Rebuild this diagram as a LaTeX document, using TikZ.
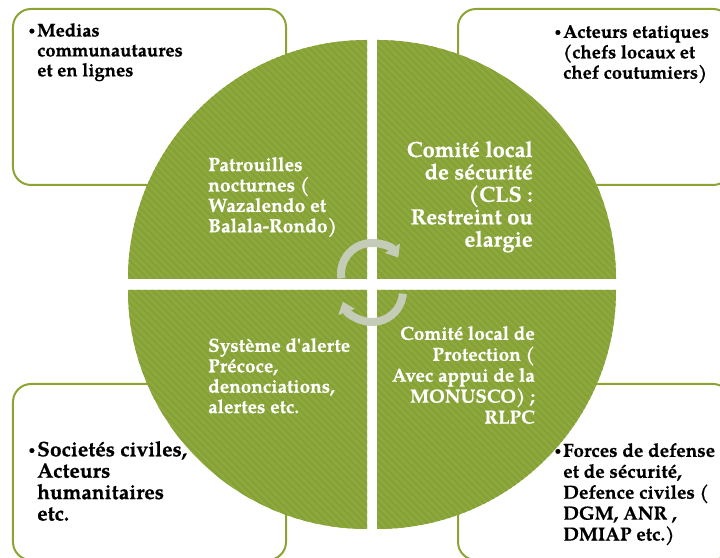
\documentclass[tikz,border=0pt]{standalone}
\usepackage{fontspec}
\setmainfont{texgyrepagella}[Extension=.otf, UprightFont=*-regular, BoldFont=*-bold,
  BoldFeatures={FakeBold=0.6}]
\usetikzlibrary{arrows.meta}

\definecolor{leafgreen}{RGB}{142,170,60}
\definecolor{leafstripe}{RGB}{134,161,55}
\definecolor{boxrim}{RGB}{140,165,50}
\definecolor{cyclegrey}{RGB}{196,203,182}

% four quarter discs with a white cross between them
\newcommand{\leaves}{(367,279) -- (128,279) arc[start angle=180,end angle=90,radius=239] -- cycle
  (377,279) -- (377,518) arc[start angle=90,end angle=0,radius=239] -- cycle
  (367,268) -- (128,268) arc[start angle=180,end angle=270,radius=239] -- cycle
  (377,268) -- (616,268) arc[start angle=0,end angle=-90,radius=239] -- cycle}
% small bullet hanging in the margin
\newcommand{\dotitem}{\llap{\raisebox{.3ex}{\fontsize{11}{11}\selectfont\textbullet}\hspace{2bp}}}

\begin{document}
\begin{tikzpicture}[x=1bp,y=1bp,
  infobox/.style={draw=boxrim, line width=2bp, fill=white, rounded corners=18bp,
    minimum width=273bp, minimum height=176bp, inner sep=0pt},
  boxtext/.style={anchor=north west, align=left, inner sep=0pt, text=black},
  leaftext/.style={inner sep=0pt, text=white},
  cycle arrow/.style={cyclegrey, line width=8bp, -{Triangle[width=17bp,length=11bp]}}]
\useasboundingbox (0,0) rectangle (720,558);
\clip (0,0) rectangle (720,558);

% corner boxes, partly under the circle
\node[infobox] (medias-box) at (149.5,461) {};
\node[infobox] (acteurs-box) at (594.5,461) {};
\node[infobox] (societes-box) at (149.5,86) {};
\node[infobox] (forces-box) at (594.5,86) {};

% green quarters with a light hatching
\fill[leafgreen] \leaves;
\begin{scope}
\clip \leaves;
\foreach \k in {-560,-553,...,720}
  \draw[leafstripe, line width=2.5bp] (\k,560) -- ++(560,-560);
\end{scope}

% the two turning arrows in the middle
\draw[cycle arrow] (372,284) ++(188:31) arc[start angle=188,end angle=32,radius=31];
\draw[cycle arrow] (372,267) ++(-5:31) arc[start angle=-5,end angle=-160,radius=31];

% texts of the boxes
\node[boxtext, font=\bfseries\fontsize{18.5}{20}\selectfont] (medias) at (37,535)
  {\dotitem Medias\\communautaures\\et en lignes};
\node[boxtext, font=\bfseries\fontsize{18.5}{20.5}\selectfont] (acteurs) at (563,533)
  {\dotitem Acteurs etatiques\\(chefs locaux et\\chef coutumiers)};
\node[boxtext, font=\bfseries\fontsize{21}{21.5}\selectfont] (societes) at (37,117)
  {\dotitem Societés civiles,\\Acteurs\\humanitaires\\etc.};
\node[boxtext, font=\bfseries\fontsize{19}{21}\selectfont] (forces) at (563,115)
  {\dotitem Forces de defense\\et de sécurité,\\Defence civiles (\\DGM, ANR ,\\DMIAP etc.)};

% texts of the quarters
\node[leaftext, anchor=north west, align=left, font=\bfseries\fontsize{19.3}{20.5}\selectfont] (patrouilles) at (208,401)
  {Patrouilles\\nocturnes (\\Wazalendo et\\Balala-Rondo)};
\node[leaftext, anchor=north east, align=right, font=\bfseries\fontsize{22}{22.5}\selectfont] (cls) at (533,417)
  {Comité local\\de sécurité\\(CLS :\\Restreint ou\\elargie};
\node[leaftext, anchor=north west, align=left, font=\bfseries\fontsize{19}{20.5}\selectfont] (alerte) at (208,220)
  {Système d\textquotesingle alerte\\Précoce,\\denonciations,\\alertes etc.};
\node[leaftext, anchor=north east, align=right, font=\bfseries\fontsize{19}{21}\selectfont] (protection) at (535,232)
  {Comité local de\\Protection (\\Avec appui de la\\MONUSCO) ;\\RLPC};
\end{tikzpicture}
\end{document}
